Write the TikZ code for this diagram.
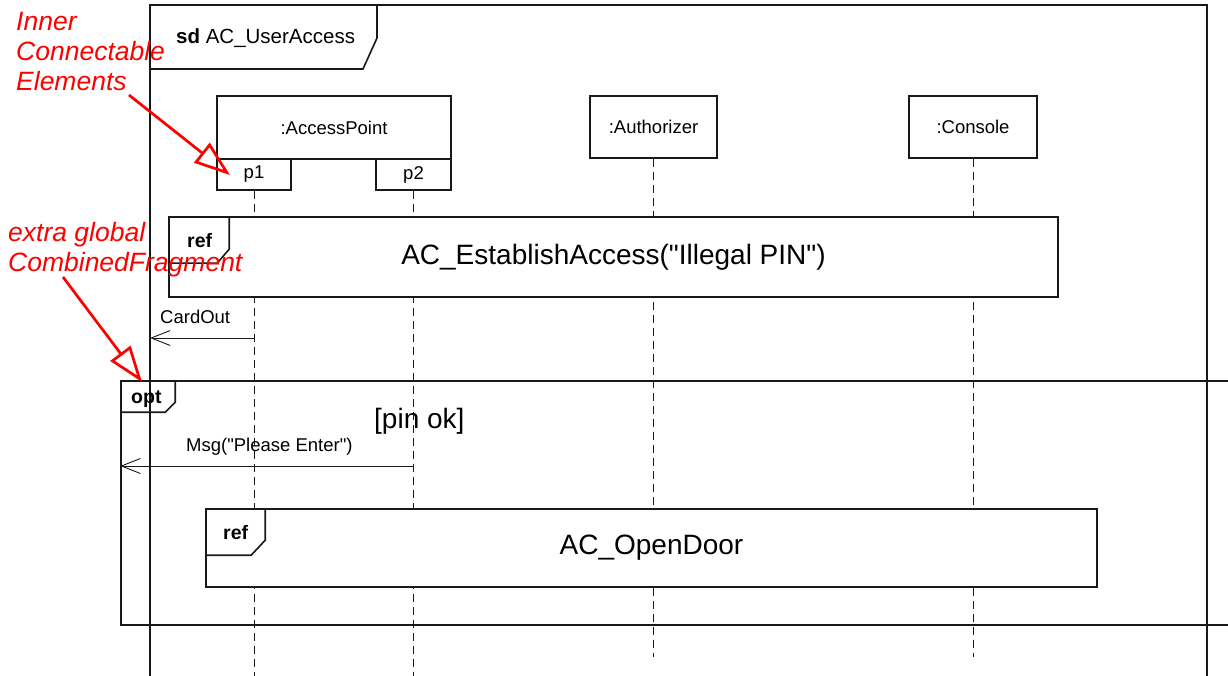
\documentclass[tikz,border=0pt]{standalone}
\usepackage{fontspec}
\setmainfont{Liberation Sans}
\usetikzlibrary{arrows.meta}
\begin{document}
\begin{tikzpicture}[x=1pt,y=-1pt,
  frame/.style={draw=black!90, line width=1.6pt},
  reffrag/.style={frame, fill=white, inner sep=0pt, font=\fontsize{28}{32}\selectfont},
  headbox/.style={draw=black!90, line width=1.1pt, fill=white, inner sep=0pt, font=\fontsize{18.5}{22}\selectfont},
  lifeline/.style={draw=black!90, line width=1pt, dash pattern=on 8pt off 5pt},
  msg/.style={draw=black!90, line width=1pt, -{Straight Barb[length=19pt,width=15pt,line width=0.9pt]}},
  small/.style={inner sep=0pt, font=\fontsize{18.5}{22}\selectfont},
  tag/.style={inner sep=0pt, font=\fontsize{19.5}{22}\selectfont\bfseries},
  big/.style={inner sep=0pt, font=\fontsize{28}{32}\selectfont},
  note/.style={red, inner sep=0pt, align=left, font=\fontsize{26.5}{30}\selectfont\itshape},
  notearrow/.style={red, line width=2.7pt, -{Triangle[open, length=36pt, width=25pt, line width=2.7pt]}}
]
\fill[white] (0,0) rectangle (1228,676);
\useasboundingbox (0,0) rectangle (1228,676);

% outer sd frame
\coordinate (sdtl) at (150,5);
\coordinate (sdtr) at (1207,5);
\coordinate (sdbl) at (150,690);
\coordinate (sdbr) at (1207,690);
\draw[frame] (sdbl) -- (sdtl) -- (sdtr) -- (sdbr);
\draw[frame] (sdtl) ++(227,0) -- ++(0,33) -- ++(-14,31) -- ++(-213,0);
\node[anchor=base west, inner sep=0pt, font=\fontsize{20.5}{24}\selectfont] (sdlabel) at (176,44) {\textbf{sd} AC\_UserAccess};

% lifeline heads
\node[headbox, minimum width=234pt, minimum height=63pt] (ap) at (334,127.5) {:AccessPoint};
\node[headbox, minimum width=74pt, minimum height=31pt] (p1) at (254,174.5) {p1};
\node[headbox, minimum width=75pt, minimum height=31pt] (p2) at (413.5,174.5) {p2};
\node[headbox, minimum width=127pt, minimum height=62pt] (auth) at (653.5,127) {:Authorizer};
\node[headbox, minimum width=128pt, minimum height=62pt] (cons) at (973,127) {:Console};

% lifelines
\coordinate (bottomA) at (0,690);
\coordinate (bottomB) at (0,657);
\draw[lifeline] (p1.south) -- (p1.south |- bottomA);
\draw[lifeline] (p2.south) -- (p2.south |- bottomA);
\draw[lifeline] (auth.south) -- (auth.south |- bottomB);
\draw[lifeline] (cons.south) -- (cons.south |- bottomB);

% ref 1
\node[reffrag, minimum width=889pt, minimum height=80pt] (ref1) at (613.5,257) {AC\_EstablishAccess(\textquotedbl Illegal PIN\textquotedbl)};
\draw[frame] ([xshift=61pt]ref1.north west) -- ++(0,33) -- ++(-12,14) -- ++(-49,0);
\node[tag, anchor=base west] (ref1tag) at (187,248) {ref};

% CardOut
\coordinate (cardL) at (150,338);
\draw[msg] (p1.south |- cardL) -- (cardL);
\node[small, anchor=base west] (cardlbl) at (160,323) {CardOut};

% opt fragment
\node[frame, inner sep=0pt, minimum width=1107.5pt, minimum height=244pt] (opt) at (674.75,503) {};
\draw[frame] ([xshift=55pt]opt.north west) -- ++(0,22) -- ++(-10,10) -- ++(-45,0);
\node[tag, anchor=base west] (opttag) at (131,403) {opt};
\node[big, anchor=base west] (guard) at (374,428) {[pin ok]};

% Msg
\coordinate (msgR) at (413.5,466);
\draw[msg] (msgR) -- (opt.west |- msgR);
\node[small, anchor=base west] (msglbl) at (186,451) {Msg(\textquotedbl Please Enter\textquotedbl)};

% ref 2
\node[reffrag, minimum width=891pt, minimum height=78pt] (ref2) at (651.5,548) {AC\_OpenDoor};
\draw[frame] ([xshift=60pt]ref2.north west) -- ++(0,32) -- ++(-14,15) -- ++(-46,0);
\node[tag, anchor=base west] (ref2tag) at (223,539) {ref};

% annotations
\node[note, anchor=north west] (note1) at (16,12) {Inner\\Connectable\\Elements};
\coordinate (n1s) at (129,95);
\coordinate (n1e) at (230,175);
\draw[notearrow] (n1s) -- (n1e);

\node[note, anchor=north west] (note2) at (8,222) {extra global\\CombinedFragment};
\coordinate (n2s) at (63,277);
\coordinate (n2e) at (142,382);
\draw[notearrow] (n2s) -- (n2e);
\end{tikzpicture}
\end{document}
